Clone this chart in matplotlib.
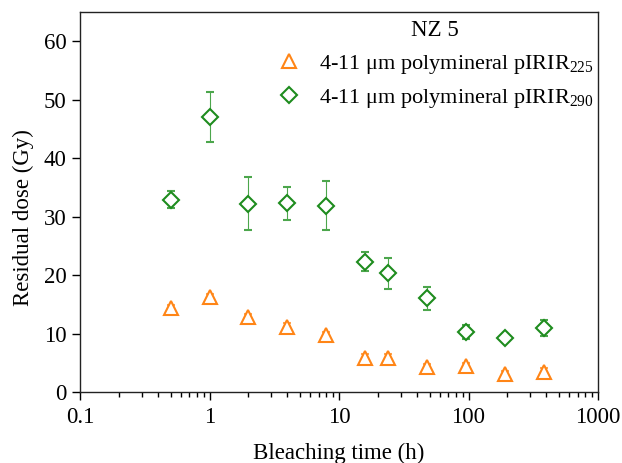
import matplotlib
matplotlib.use("Agg")
import matplotlib.pyplot as plt
import numpy as np

plt.rcParams['font.family'] = ['Liberation Serif', 'DejaVu Serif']
plt.rcParams['mathtext.fontset'] = 'custom'
plt.rcParams['mathtext.rm'] = 'Liberation Serif'
plt.rcParams['mathtext.it'] = 'Liberation Serif:italic'

# bleaching times (h)
time_h = [0.5, 1, 2, 4, 8, 16, 24, 48, 96, 192, 384]

# pIRIR225
dose_225 = [14.3, 16.2, 12.8, 11.2, 9.7, 5.9, 5.9, 4.2, 4.4, 3.0, 3.5]
err_225 = [0.6, 0.6, 0.6, 0.6, 0.6, 0.6, 0.6, 0.6, 0.6, 0.6, 0.6]

# pIRIR290
dose_290 = [32.9, 47.0, 32.2, 32.3, 31.9, 22.3, 20.3, 16.0, 10.3, 9.3, 10.9]
err_290 = [1.5, 4.3, 4.5, 2.8, 4.2, 1.6, 2.6, 1.9, 1.2, 0.6, 1.35]

orange = '#FF8516'
green = '#1E8C1E'
fs = 16.5

fig = plt.figure(figsize=(6.22, 4.63), dpi=100)
ax = fig.add_axes([80/622, (463-392)/463, (598-80)/622, (392-12)/463])

e1 = ax.errorbar(time_h, dose_225, yerr=err_225, fmt='^', ms=10.5, mfc='white', mec=orange,
                 mew=1.5, ecolor='#FFA54F', elinewidth=0.8, capsize=3, capthick=0.8, zorder=3)
e2 = ax.errorbar(time_h, dose_290, yerr=err_290, fmt='D', ms=8.5, mfc='white', mec=green,
                 mew=1.5, ecolor='#4CA64C', elinewidth=0.8, capsize=3, capthick=0.8, zorder=3)

ax.set_xscale('log')
ax.set_xlim(0.1, 1000)
ax.set_ylim(0, 65)
ax.set_yticks([0, 10, 20, 30, 40, 50, 60])
ax.set_xticks([0.1, 1, 10, 100, 1000])
ax.set_xticklabels(['0.1', '1', '10', '100', '1000'])

ax.tick_params(axis='both', which='major', direction='out', length=6, width=1,
               labelsize=fs, top=False, right=False)
ax.tick_params(axis='x', which='major', pad=5)
ax.tick_params(axis='x', which='minor', direction='out', length=3.5, width=1, top=False)
for s in ax.spines.values():
    s.set_linewidth(1)
    s.set_color('#222222')

ax.set_xlabel('Bleaching time (h)', fontsize=fs)
ax.xaxis.set_label_coords(0.5, -0.135)
ax.set_ylabel('Residual dose (Gy)', fontsize=fs)
ax.yaxis.set_label_coords(-0.088, 0.46)

leg = ax.legend([e1[0], e2[0]],
                ['4-11 μm polymineral pIRIR$_{225}$', '4-11 μm polymineral pIRIR$_{290}$'],
                loc='upper right', title='NZ 5', frameon=False, fontsize=16,
                title_fontsize=fs, handlelength=1.2, handletextpad=0.73, borderaxespad=0.1,
                labelspacing=0.5, bbox_to_anchor=(1.013, 1.007))

fig.savefig('out.png', dpi=100)
